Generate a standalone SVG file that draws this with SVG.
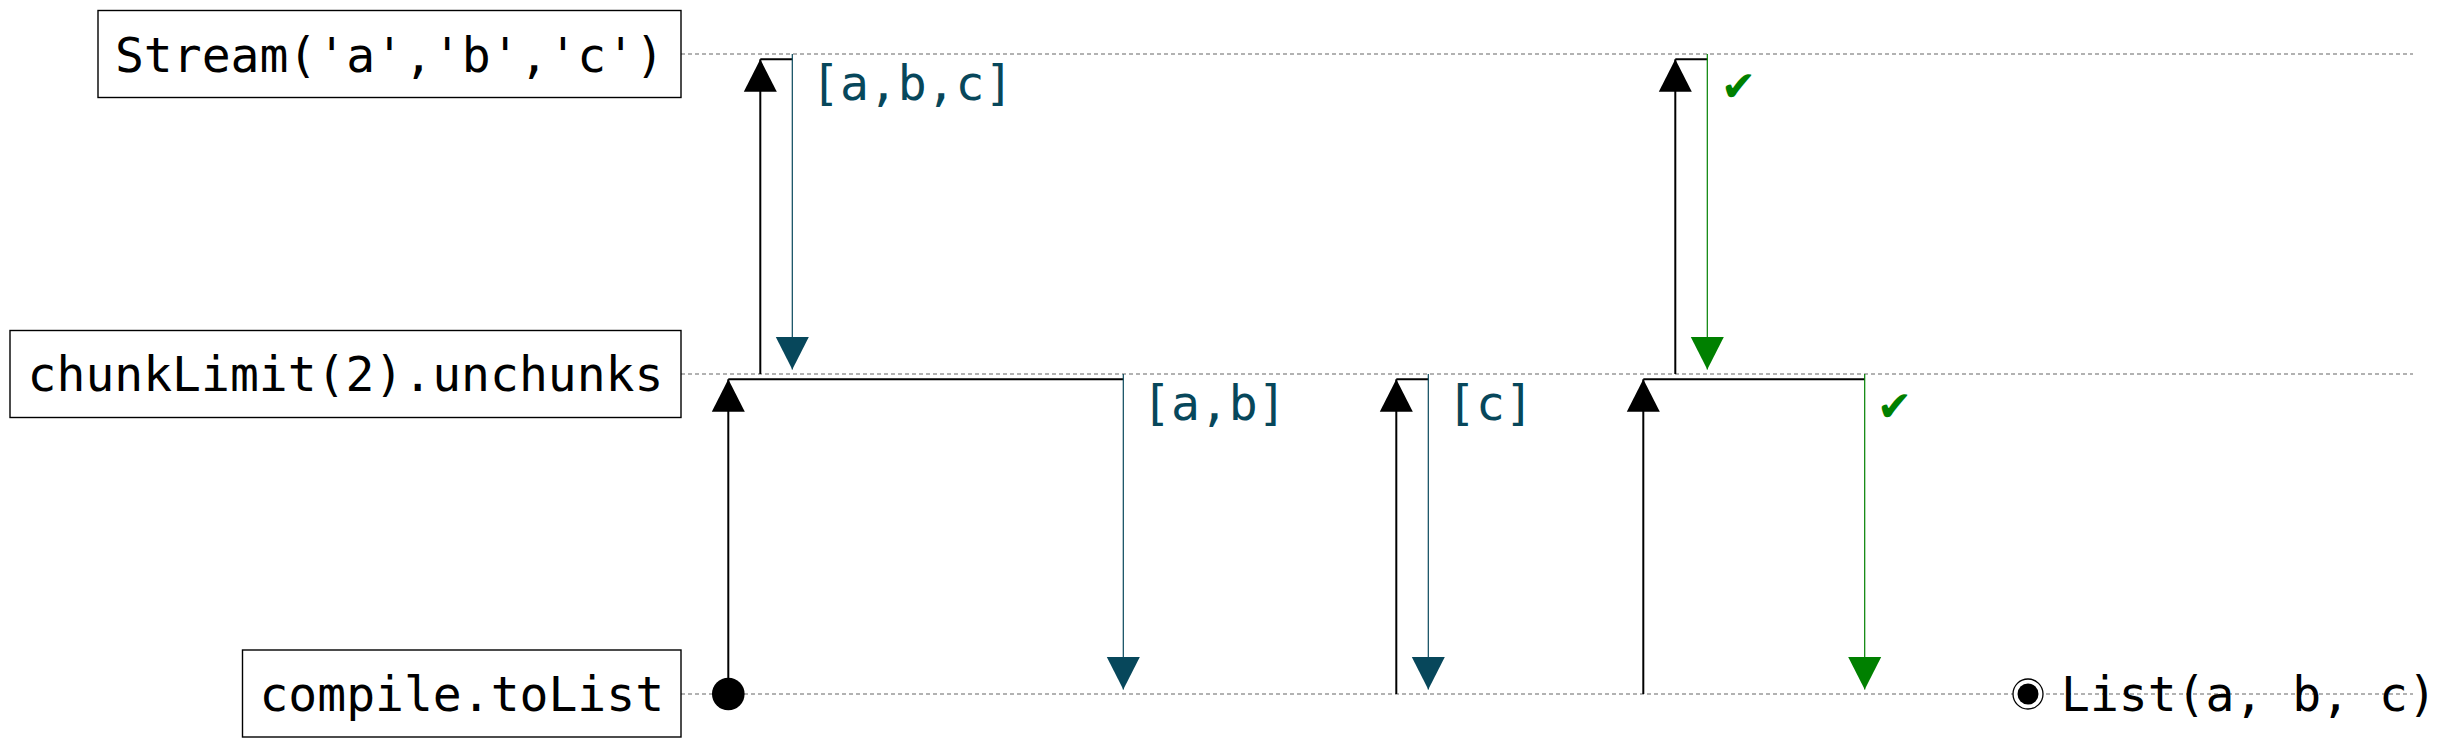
<svg xmlns="http://www.w3.org/2000/svg" width="2449" height="748" viewBox="0 0 2449 748">
<style>
.box{fill:#fff;stroke:#000;stroke-width:1.4}
.nt{font-family:"DejaVu Sans Mono","Liberation Mono",monospace;font-size:48px;fill:#000;text-anchor:middle}
.life{stroke:#999;stroke-width:1.4;stroke-dasharray:4 3;fill:none}
.up{stroke:#000;stroke-width:2;fill:none;marker-end:url(#hb)}
.hz{stroke:#000;stroke-width:2;fill:none}
.dt{stroke:#07475b;stroke-width:1.2;fill:none;marker-end:url(#ht)}
.dg{stroke:#008000;stroke-width:1.2;fill:none;marker-end:url(#hg)}
.lt{font-family:"DejaVu Sans Mono","Liberation Mono",monospace;font-size:48px;fill:#07475b}
.lg{font-family:"DejaVu Sans Mono","DejaVu Sans",monospace;font-size:48px;fill:#008000}
</style>
<defs>
<marker id="hb" markerUnits="userSpaceOnUse" viewBox="-33 -17 33 34" refX="0" refY="0" markerWidth="33" markerHeight="34" orient="auto"><path d="M0,0 L-32.5,-16.5 L-32.5,16.5 Z" fill="#000"/></marker>
<marker id="ht" markerUnits="userSpaceOnUse" viewBox="-33 -17 33 34" refX="0" refY="0" markerWidth="33" markerHeight="34" orient="auto"><path d="M0,0 L-32.5,-16.5 L-32.5,16.5 Z" fill="#07475b"/></marker>
<marker id="hg" markerUnits="userSpaceOnUse" viewBox="-33 -17 33 34" refX="0" refY="0" markerWidth="33" markerHeight="34" orient="auto"><path d="M0,0 L-32.5,-16.5 L-32.5,16.5 Z" fill="#008000"/></marker>
</defs>
<rect width="2449" height="748" fill="#fff"/>
<g id="lifelines">
<line class="life" x1="681" y1="54" x2="2413" y2="54"/>
<line class="life" x1="681" y1="374" x2="2413" y2="374"/>
<line class="life" x1="681" y1="694" x2="2413" y2="694"/>
</g>
<g id="node-stream">
<rect class="box" x="98" y="10.5" width="583" height="87"/>
<text class="nt" x="389.5" y="72">Stream('a','b','c')</text>
</g>
<g id="node-chunk">
<rect class="box" x="10" y="330.5" width="671" height="87"/>
<text class="nt" x="345.5" y="391">chunkLimit(2).unchunks</text>
</g>
<g id="node-compile">
<rect class="box" x="242.5" y="650" width="438.5" height="87"/>
<text class="nt" x="461.75" y="711">compile.toList</text>
</g>
<g id="connectors">
<circle cx="728.3" cy="694" r="16.3" fill="#000"/>
<path class="up" d="M728.3,694 V379.3"/>
<path class="hz" d="M728.3,379.3 H1123.3"/>
<path class="dt" d="M1123.3,374 V689.5"/>
<text class="lt" x="1142" y="420">[a,b]</text>

<path class="up" d="M760.3,374 V59.3"/>
<path class="hz" d="M760.3,59.3 H792.3"/>
<path class="dt" d="M792.3,54 V369.5"/>
<text class="lt" x="811" y="100">[a,b,c]</text>

<path class="up" d="M1396.3,694 V379.3"/>
<path class="hz" d="M1396.3,379.3 H1428.3"/>
<path class="dt" d="M1428.3,374 V689.5"/>
<text class="lt" x="1447" y="420">[c]</text>

<path class="up" d="M1675.3,374 V59.3"/>
<path class="hz" d="M1675.3,59.3 H1707.3"/>
<path class="dg" d="M1707.3,54 V369.5"/>
<text class="lg" x="1724" y="100">✔</text>

<path class="up" d="M1643.3,694 V379.3"/>
<path class="hz" d="M1643.3,379.3 H1864.7"/>
<path class="dg" d="M1864.7,374 V689.5"/>
<text class="lg" x="1880" y="420">✔</text>
</g>
<g id="end">
<circle cx="2028" cy="694" r="15" fill="#fff" stroke="#000" stroke-width="1.3"/>
<circle cx="2028" cy="694" r="10.5" fill="#000"/>
<text class="nt" style="text-anchor:start" x="2061" y="711">List(a, b, c)</text>
</g>
</svg>
